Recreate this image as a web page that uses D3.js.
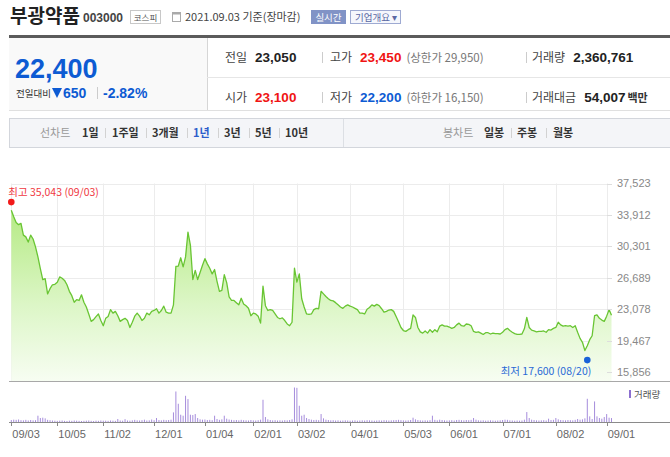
<!DOCTYPE html>
<html>
<head>
<meta charset="utf-8">
<script src="https://cdn.jsdelivr.net/npm/d3@7"></script>
<style>
  body { margin: 0; background: #fff; }
  svg { display: block; font-family: "Noto Sans CJK KR", "Liberation Sans", sans-serif; }
  .num { font-family: "Liberation Sans", Arial, sans-serif; }
</style>
</head>
<body>
<div id="chart"></div>
<script>
// 종가 (2020.09.03 ~ 2021.09.03, 거래일 기준)
const prices = [
  34450,33700,33050,32800,32950,31600,31400,30800,31600,31150,
  30250,29100,27750,26500,26600,24850,25450,25900,25950,26200,
  26800,26650,26400,25900,25150,24650,23900,24200,24100,24750,
  23900,23350,22550,21700,21900,22250,22550,21800,21200,22050,
  22250,23050,22650,22850,22350,21700,21900,22050,21800,21000,
  21600,22300,22650,22300,21800,22050,22650,22450,22850,22950,
  23150,22650,22950,23450,22750,22650,22650,23600,28000,28050,
  29000,27950,29100,31950,30450,26500,27550,26500,27300,28150,
  28900,28300,27800,27150,27650,26300,25150,25250,27050,26150,
  24500,24100,24100,23850,23600,24350,23700,23500,23200,22350,
  22650,22550,22300,21500,25750,23500,22950,23050,22950,22550,
  22150,22000,22100,21800,21400,21200,21600,27800,26200,27150,
  24300,23350,22550,22500,22550,23050,23200,23150,25150,24850,
  24550,24300,24100,24050,23850,23600,23350,23200,23450,23600,
  23450,23350,23200,23050,22650,22650,22550,23100,23300,23600,
  23450,23650,23500,23150,22750,22850,23000,23050,22850,22250,
  21650,21000,20650,20550,20750,20900,22450,22150,21000,20500,
  20350,20600,20350,20750,20450,20750,20500,21150,21300,21150,
  21150,21050,20900,21000,21300,21500,21200,21150,21400,21350,
  21200,20550,20450,20500,20350,20200,20400,20400,20250,20350,
  20300,20300,20250,20450,20750,20900,20650,20450,20300,20200,
  20200,20250,20850,22150,21000,20700,20600,20500,20550,20550,
  20600,20450,20750,20700,20900,21000,21600,21300,21150,21200,
  21150,21200,21000,21200,20450,19750,19300,18350,18900,19600,
  20050,22350,22450,22050,21850,21700,22300,23050,22400
];

// 거래량 (천주)
const volumes = [
  1200,1400,1300,1500,1100,1000,1300,900,1200,1000,
  1100,3800,2400,2600,2200,1300,1100,900,800,700,
  800,900,700,600,800,700,900,800,700,600,
  700,800,900,700,600,800,700,900,800,800,
  700,900,800,700,1800,900,800,1700,900,800,
  1000,1300,1000,900,1100,1400,900,1000,1500,1100,
  2400,1200,1000,1300,1100,1200,1400,5800,18400,11000,
  4400,3800,15800,13800,4400,4200,4800,2400,1600,1400,
  1500,1200,1300,1100,3800,1800,1300,1600,3800,2000,
  1500,1300,1100,1200,1000,1300,1100,1000,900,1200,
  1000,900,1100,1400,13400,3000,1600,1200,1000,1100,
  900,1000,900,1100,1000,1200,1600,20800,20600,9800,
  3800,4400,2400,1800,1400,1200,1300,1100,4800,2200,
  1400,1200,1000,1100,900,1000,800,900,1000,900,
  800,900,1000,800,900,1000,900,1100,1000,900,
  800,900,1000,900,1100,1000,900,1000,1100,1200,
  1300,1100,1000,900,1000,1200,2600,1600,1200,1000,
  900,1000,900,1100,3800,1300,1000,1400,1200,1000,
  900,1000,1100,900,1200,1300,1100,1000,1200,1100,
  1300,2400,1400,1000,900,1000,800,900,1000,900,
  800,900,1000,1200,1400,1300,1000,900,800,900,
  800,900,1400,6000,2400,1400,1200,1000,900,1000,
  1100,900,2000,1200,1300,2400,1600,1200,1100,1000,
  1200,1100,1000,1300,1800,1400,1600,2200,14000,3400,
  1800,12400,3400,2400,2000,3000,4800,2600,2361
];

// x축 눈금 (거래일 인덱스, 라벨)
const tickIdx = [0, 19, 38, 59, 80, 100, 118, 140, 162, 181, 203, 225, 246];
const tickLabels = ['09/03','10/05','11/02','12/01','01/04','02/01','03/02','04/01','05/03','06/01','07/01','08/02','09/01'];
const yTicks = [37523, 33912, 30301, 26689, 23078, 19467, 15856];

const highIdx = 0, highValue = 35043, highLabel = '최고 35,043 (09/03)';
const lowIdx = 238, lowValue = 17600, lowLabel = '최저 17,600 (08/20)';

const W = 670, H = 457;
const svg = d3.select('#chart').append('svg').attr('width', W).attr('height', H);

// ---------- 상단 헤더 ----------
svg.append('text').attr('x', 10).attr('y', 23).attr('font-size', 19).attr('font-weight', 700)
  .attr('fill', '#222').text('부광약품');
svg.append('text').attr('class', 'num').attr('x', 83).attr('y', 22).attr('font-size', 12)
  .attr('font-weight', 700).attr('fill', '#444').text('003000');
svg.append('rect').attr('x', 130.5).attr('y', 10.5).attr('width', 30).attr('height', 13)
  .attr('fill', '#fff').attr('stroke', '#c8c8c8');
svg.append('text').attr('x', 145.5).attr('y', 20.5).attr('text-anchor', 'middle')
  .attr('font-size', 8.5).attr('fill', '#555').text('코스피');
// 달력 아이콘
svg.append('rect').attr('x', 172.5).attr('y', 12.5).attr('width', 8).attr('height', 9)
  .attr('fill', '#fff').attr('stroke', '#aaa');
svg.append('rect').attr('x', 172.5).attr('y', 12.5).attr('width', 8).attr('height', 2).attr('fill', '#aaa');
svg.append('text').attr('x', 185).attr('y', 21).attr('font-size', 11).attr('fill', '#444')
  .text('2021.09.03 기준(장마감)');
svg.append('rect').attr('x', 311).attr('y', 10).attr('width', 35).attr('height', 14).attr('fill', '#8193c6');
svg.append('text').attr('x', 328.5).attr('y', 20.5).attr('text-anchor', 'middle')
  .attr('font-size', 9.5).attr('fill', '#fff').text('실시간');
svg.append('rect').attr('x', 350.5).attr('y', 10.5).attr('width', 50).attr('height', 13)
  .attr('fill', '#f5f7fc').attr('stroke', '#9eaad2');
svg.append('text').attr('x', 355).attr('y', 20.5).attr('font-size', 9.5).attr('fill', '#5a68a3')
  .text('기업개요 ▾');

// ---------- 시세 박스 ----------
svg.append('rect').attr('x', 9).attr('y', 38).attr('width', 198).attr('height', 72).attr('fill', '#f9f9f9');
svg.append('rect').attr('x', 9).attr('y', 35).attr('width', W - 9).attr('height', 3).attr('fill', '#5b5b5b');
svg.append('line').attr('x1', 207.5).attr('x2', 207.5).attr('y1', 38).attr('y2', 110).attr('stroke', '#d6d6d6');
svg.append('line').attr('x1', 207).attr('x2', W).attr('y1', 77.5).attr('y2', 77.5).attr('stroke', '#e6e6e6');
svg.append('line').attr('x1', 9).attr('x2', W).attr('y1', 110.5).attr('y2', 110.5).attr('stroke', '#e0e0e0');

svg.append('text').attr('class', 'num').attr('x', 15).attr('y', 78).attr('font-size', 27)
  .attr('font-weight', 700).attr('fill', '#0d5bd3').text('22,400');
svg.append('text').attr('x', 16).attr('y', 97).attr('font-size', 9.5).attr('fill', '#333').text('전일대비');
svg.append('path').attr('d', 'M52,88 L62,88 L57,98 Z').attr('fill', '#0d5bd3');
svg.append('text').attr('class', 'num').attr('x', 63).attr('y', 98).attr('font-size', 14)
  .attr('font-weight', 700).attr('fill', '#0d5bd3').text('650');
svg.append('line').attr('x1', 97.5).attr('x2', 97.5).attr('y1', 87).attr('y2', 99).attr('stroke', '#ccc');
svg.append('text').attr('class', 'num').attr('x', 103).attr('y', 98).attr('font-size', 14)
  .attr('font-weight', 700).attr('fill', '#0d5bd3').text('-2.82%');

const quoteCells = [
  { x: 225, y: 62, label: '전일', value: '23,050', color: '#222', sub: '' },
  { x: 330, y: 62, label: '고가', value: '23,450', color: '#f01414', sub: '(상한가 29,950)' },
  { x: 532, y: 62, label: '거래량', value: '2,360,761', color: '#222', sub: '' },
  { x: 225, y: 102, label: '시가', value: '23,100', color: '#f01414', sub: '' },
  { x: 330, y: 102, label: '저가', value: '22,200', color: '#0d5bd3', sub: '(하한가 16,150)' },
  { x: 532, y: 102, label: '거래대금', value: '54,007', color: '#222', sub: '백만' }
];
quoteCells.forEach(c => {
  const t = svg.append('text').attr('x', c.x).attr('y', c.y).attr('font-size', 12).attr('fill', '#444');
  t.append('tspan').text(c.label);
  t.append('tspan').attr('class', 'num').attr('dx', 8).attr('font-size', 13.5).attr('font-weight', 700)
    .attr('fill', c.color).text(c.value);
  if (c.sub === '백만') {
    t.append('tspan').attr('dx', 2).attr('font-size', 11).attr('font-weight', 700).attr('fill', '#333').text(c.sub);
  } else if (c.sub) {
    t.append('tspan').attr('dx', 5).attr('font-size', 11.5).attr('fill', '#777').text(c.sub);
  }
});
[[322.5, 52, 63], [526.5, 52, 63], [322.5, 92, 103], [526.5, 92, 103]].forEach(s => {
  svg.append('line').attr('x1', s[0]).attr('x2', s[0]).attr('y1', s[1]).attr('y2', s[2]).attr('stroke', '#ccc');
});

// ---------- 기간 탭 ----------
svg.append('rect').attr('x', 9.5).attr('y', 118.5).attr('width', W - 9).attr('height', 29)
  .attr('fill', '#f4f5f8').attr('stroke', '#d3d6dc');
svg.append('line').attr('x1', 343.5).attr('x2', 343.5).attr('y1', 119).attr('y2', 147).attr('stroke', '#dcdfe4');
const tabs = [
  { x: 40, t: '선차트', c: '#999', w: 400 }, { x: 82, t: '1일' }, { x: 112, t: '1주일' },
  { x: 152, t: '3개월' }, { x: 193, t: '1년', c: '#2d5ecb' }, { x: 224, t: '3년' },
  { x: 255, t: '5년' }, { x: 285, t: '10년' },
  { x: 443, t: '봉차트', c: '#999', w: 400 }, { x: 484, t: '일봉' }, { x: 517, t: '주봉' }, { x: 553, t: '월봉' }
];
tabs.forEach(d => {
  svg.append('text').attr('x', d.x).attr('y', 137).attr('font-size', 11)
    .attr('font-weight', d.w || 700).attr('fill', d.c || '#333').text(d.t);
});
[105, 146, 187, 218, 249, 279, 511, 546].forEach(sx => {
  svg.append('line').attr('x1', sx + 0.5).attr('x2', sx + 0.5).attr('y1', 128).attr('y2', 138).attr('stroke', '#d2d2d2');
});

// ---------- 차트 ----------
const x = d3.scaleLinear().domain([0, prices.length - 1]).range([11.3, 611.5]);
const y = d3.scaleLinear().domain([15856, 37523]).range([372.3, 183.5]);
const priceBottom = 381, volBase = 422;
const v = d3.scaleLinear().domain([0, d3.max(volumes)]).range([volBase, 387.5]);

const defs = svg.append('defs');
const grad = defs.append('linearGradient').attr('id', 'fillGrad')
  .attr('x1', 0).attr('x2', 0).attr('y1', 0).attr('y2', 1);
grad.append('stop').attr('offset', '0%').attr('stop-color', '#b5ea84');
grad.append('stop').attr('offset', '55%').attr('stop-color', '#dcf6c6');
grad.append('stop').attr('offset', '100%').attr('stop-color', '#f7fdf2');

// 그리드
const grid = svg.append('g').attr('stroke', '#ececec').attr('stroke-width', 1);
grid.selectAll('line.h').data(yTicks).enter().append('line')
  .attr('x1', x(0)).attr('x2', 612).attr('y1', d => Math.round(y(d)) + 0.5).attr('y2', d => Math.round(y(d)) + 0.5);
grid.selectAll('line.v').data(tickIdx).enter().append('line')
  .attr('x1', d => Math.round(x(d)) + 0.5).attr('x2', d => Math.round(x(d)) + 0.5)
  .attr('y1', y(37523)).attr('y2', priceBottom);

// 가격 영역 + 선
const area = d3.area().x((d, i) => x(i)).y0(priceBottom).y1(d => y(d));
const line = d3.line().x((d, i) => x(i)).y(d => y(d));
svg.append('path').datum(prices).attr('d', area).attr('fill', 'url(#fillGrad)');
svg.append('path').datum(prices).attr('d', line).attr('fill', 'none')
  .attr('stroke', '#69c533').attr('stroke-width', 1.3).attr('stroke-linejoin', 'round');

// 오른쪽 y축
const yAxis = svg.append('g');
yAxis.selectAll('line').data(yTicks).enter().append('line')
  .attr('x1', 607).attr('x2', 612).attr('y1', d => Math.round(y(d)) + 0.5).attr('y2', d => Math.round(y(d)) + 0.5)
  .attr('stroke', '#ddd');
yAxis.selectAll('text').data(yTicks).enter().append('text')
  .attr('class', 'num').attr('x', 617).attr('y', d => y(d)).attr('dy', '0.35em')
  .attr('font-size', 11).attr('fill', '#888').text(d => d3.format(',')(d));

// 최고 / 최저
svg.append('circle').attr('cx', x(highIdx)).attr('cy', y(highValue) - 3).attr('r', 3.3).attr('fill', '#f21a1a');
svg.append('text').attr('x', x(highIdx) - 3).attr('y', y(highValue) - 9).attr('font-size', 10.5)
  .attr('fill', '#f0383f').text(highLabel);
svg.append('circle').attr('cx', x(lowIdx)).attr('cy', y(lowValue) + 3).attr('r', 3.3).attr('fill', '#1a62d8');
svg.append('text').attr('x', x(lowIdx) + 4).attr('y', y(lowValue) + 18).attr('text-anchor', 'end')
  .attr('font-size', 10.5).attr('fill', '#2a6ad6').text(lowLabel);

// 패널 구분선
svg.append('line').attr('x1', 9).attr('x2', W).attr('y1', priceBottom + 0.5).attr('y2', priceBottom + 0.5)
  .attr('stroke', '#a8a8a8');

// 거래량 막대
svg.append('g').selectAll('rect').data(volumes).enter().append('rect')
  .attr('x', (d, i) => x(i) - 0.5).attr('width', 1)
  .attr('y', d => v(d)).attr('height', d => volBase - v(d))
  .attr('fill', '#a68ddc');

svg.append('rect').attr('x', 629).attr('y', 390).attr('width', 2).attr('height', 8).attr('fill', '#8c6fd0');
svg.append('text').attr('x', 634).attr('y', 398).attr('font-size', 9.5).attr('fill', '#555').text('거래량');

// x축
svg.append('line').attr('x1', 9).attr('x2', W).attr('y1', volBase + 0.5).attr('y2', volBase + 0.5)
  .attr('stroke', '#8a8a8a');
const xAxis = svg.append('g');
xAxis.selectAll('line').data(tickIdx).enter().append('line')
  .attr('x1', d => Math.round(x(d)) + 0.5).attr('x2', d => Math.round(x(d)) + 0.5)
  .attr('y1', volBase).attr('y2', volBase + 4).attr('stroke', '#8a8a8a');
xAxis.selectAll('text').data(tickIdx).enter().append('text')
  .attr('class', 'num').attr('x', d => x(d) + 1).attr('y', 438)
  .attr('font-size', 11).attr('fill', '#666').text((d, i) => tickLabels[i]);
</script>
</body>
</html>
